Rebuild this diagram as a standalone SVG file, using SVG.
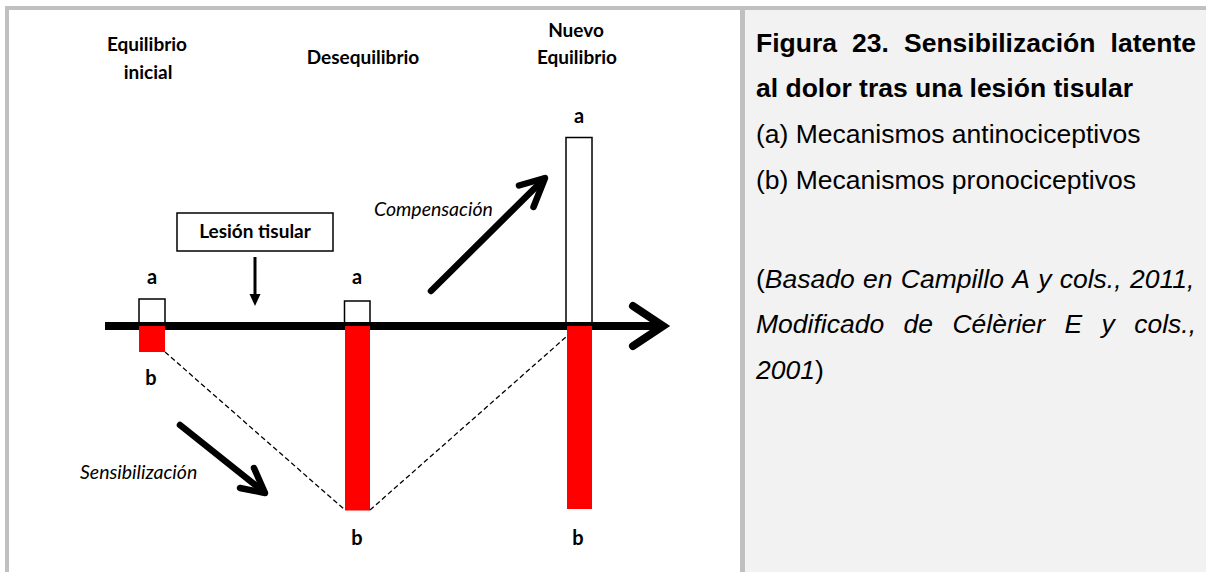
<svg xmlns="http://www.w3.org/2000/svg" width="1206" height="572" viewBox="0 0 1206 572">
<defs>
<style>
.hd{font-family:Lato,"Liberation Sans",sans-serif;font-weight:700;font-size:19px;fill:#000;text-anchor:middle}
.lb{font-family:Lato,"Liberation Sans",sans-serif;font-weight:700;font-size:20px;fill:#000;text-anchor:middle}
.it{font-family:Lato,"Liberation Sans",sans-serif;font-style:italic;font-size:19.5px;fill:#000}
.cap{font-family:"Liberation Sans",Arial,sans-serif;font-size:26.5px;fill:#000}
.b{font-weight:700}
.i{font-style:italic}
.wbox{fill:#fff;stroke:#000;stroke-width:1.5}
.red{fill:#ff0000}
.dash{fill:none;stroke:#000;stroke-width:1.3;stroke-dasharray:5 3}
.thick{fill:none;stroke:#000;stroke-linecap:round;stroke-linejoin:round}
</style>
</defs>
<rect x="0" y="0" width="1206" height="572" fill="#fff"/>
<rect x="745" y="9" width="461" height="563" fill="#f2f2f2"/>
<g id="frame" fill="#c0c0c0">
<rect x="5" y="6" width="1201" height="4"/>
<rect x="5" y="6" width="4" height="566"/>
<rect x="740" y="6" width="5" height="566"/>
</g>
<g id="headers">
<text class="hd" x="147" y="51">Equilibrio</text>
<text class="hd" x="148" y="79">inicial</text>
<text class="hd" x="363" y="64">Desequilibrio</text>
<text class="hd" x="576" y="37">Nuevo</text>
<text class="hd" x="577" y="64">Equilibrio</text>
</g>
<g id="bar1">
<rect class="wbox" x="139" y="299" width="26" height="27"/>
<text class="lb" x="152" y="284">a</text>
<text class="lb" x="151" y="385">b</text>
</g>
<g id="bar2">
<rect class="wbox" x="344.5" y="301" width="25.5" height="25"/>
<text class="lb" x="357" y="284">a</text>
<text class="lb" x="357" y="545">b</text>
</g>
<g id="bar3">
<rect class="wbox" x="566" y="137.5" width="26" height="188.5"/>
<text class="lb" x="579" y="123">a</text>
<text class="lb" x="578" y="545">b</text>
</g>
<g id="lesion">
<rect x="177" y="213" width="156" height="38" fill="#fff" stroke="#000" stroke-width="1.5"/>
<text class="hd" x="255" y="238" font-size="17">Lesión tisular</text>
</g>
<g id="connectors">
<line x1="105" y1="326" x2="662" y2="326" stroke="#000" stroke-width="8"/>
<polyline points="633,306 663,326 633,346" fill="none" stroke="#000" stroke-width="8" stroke-linecap="round" stroke-linejoin="miter"/>
<rect class="red" x="139" y="326" width="26" height="26"/>
<rect class="red" x="345" y="326" width="25" height="184.5"/>
<rect class="red" x="567" y="326" width="25" height="183"/>
<line class="dash" x1="165" y1="352" x2="345" y2="510"/>
<line class="dash" x1="370" y1="510" x2="566" y2="337"/>
<line x1="255" y1="257" x2="255" y2="296" stroke="#000" stroke-width="3"/>
<polygon points="249.5,294 260.5,294 255,306" fill="#000"/>
<line class="thick" x1="431" y1="291" x2="544" y2="179" stroke-width="6.5"/>
<polyline class="thick" points="519,185.5 545,178 533.5,207" stroke-width="6.5"/>
<line class="thick" x1="180" y1="425" x2="264" y2="492" stroke-width="6.5"/>
<polyline class="thick" points="240,488 265,493 254,468" stroke-width="6.5"/>
</g>
<g id="labels">
<text class="it" x="374" y="216">Compensación</text>
<text class="it" x="80" y="479">Sensibilización</text>
</g>
<g id="caption">
<text class="cap b" y="52"><tspan x="756">Figura</tspan><tspan x="852">23.</tspan><tspan x="904">Sensibilización</tspan><tspan x="1110.6">latente</tspan></text>
<text class="cap b" x="756" y="97">al dolor tras una lesión tisular</text>
<text class="cap" x="756" y="143">(a) Mecanismos antinociceptivos</text>
<text class="cap" x="756" y="189">(b) Mecanismos pronociceptivos</text>
<text class="cap" y="287.5"><tspan x="756">(</tspan><tspan class="i">Basado</tspan><tspan class="i" x="863">en</tspan><tspan class="i" x="900.8">Campillo</tspan><tspan class="i" x="1012.2">A</tspan><tspan class="i" x="1038.2">y</tspan><tspan class="i" x="1059.7">cols.,</tspan><tspan class="i" x="1130">2011,</tspan></text>
<text class="cap i" y="333"><tspan x="756">Modificado</tspan><tspan x="903.5">de</tspan><tspan x="952.4">Célèrier</tspan><tspan x="1064.5">E</tspan><tspan x="1101.6">y</tspan><tspan x="1134.2">cols.,</tspan></text>
<text class="cap" y="379"><tspan x="756" class="i">2001</tspan>)</text>
</g>
</svg>
